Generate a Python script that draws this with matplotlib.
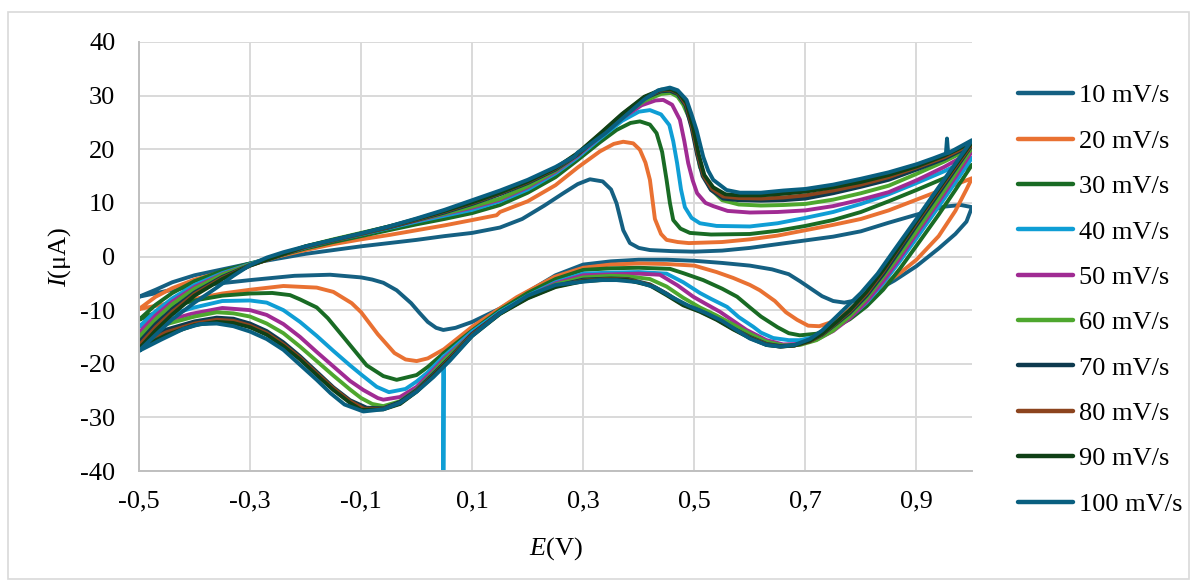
import matplotlib
matplotlib.use("Agg")
import matplotlib.pyplot as plt
from matplotlib.patches import Rectangle

plt.rcParams['font.family'] = 'Liberation Serif'
plt.rcParams['mathtext.fontset'] = 'custom'
plt.rcParams['mathtext.it'] = 'Liberation Serif:italic'
plt.rcParams['mathtext.rm'] = 'Liberation Serif'

labels = ["10 mV/s", "20 mV/s", "30 mV/s", "40 mV/s", "50 mV/s",
          "60 mV/s", "70 mV/s", "80 mV/s", "90 mV/s", "100 mV/s"]
colors = ["#156082", "#E97132", "#196B24", "#0F9ED5", "#A02B93",
          "#4EA72E", "#0D3A4E", "#8C441E", "#0F4016", "#095F80"]

# each scan: forward branch -0.5 -> 1.0, then reverse branch 1.0 -> -0.5
e10 = [-0.5, -0.47, -0.44, -0.4, -0.35, -0.3, -0.25, -0.2, -0.15, -0.1, -0.05, 0.0, 0.05, 0.1, 0.15, 0.19,
       0.23, 0.264, 0.29, 0.312, 0.335, 0.35, 0.36, 0.372, 0.384, 0.4, 0.42, 0.46, 0.5, 0.55, 0.6, 0.65,
       0.7, 0.75, 0.8, 0.85, 0.9, 0.95, 0.98, 1.0,
       0.99, 0.97, 0.94, 0.9, 0.86, 0.82, 0.79, 0.77, 0.75, 0.73, 0.71, 0.69, 0.67, 0.64, 0.6, 0.55, 0.5,
       0.45, 0.4, 0.35, 0.3, 0.25, 0.2, 0.15, 0.1, 0.07, 0.048, 0.035, 0.02, 0.005, -0.01, -0.036, -0.06,
       -0.08, -0.1, -0.156, -0.22, -0.3, -0.38, -0.44, -0.5]
i10 = [-7.5, -6.2, -4.8, -3.5, -2.4, -1.3, -0.4, 0.5, 1.2, 1.9, 2.5, 3.1, 3.8, 4.4, 5.4, 7.0,
       9.5, 11.8, 13.5, 14.4, 14.0, 12.5, 9.9, 4.9, 2.5, 1.6, 1.2, 1.0, 0.9, 1.1, 1.6, 2.3,
       3.0, 3.7, 4.7, 6.3, 7.8, 9.3, 9.6, 9.2,
       6.5, 4.2, 1.5, -1.8, -4.5, -6.8, -8.2, -8.6, -8.3, -7.4, -6.0, -4.6, -3.3, -2.4, -1.7, -1.2, -0.8,
       -0.6, -0.6, -0.9, -1.5, -3.5, -6.6, -9.7, -12.2, -13.3, -13.7, -13.3, -12.2, -10.5, -8.7, -6.3, -4.9,
       -4.3, -3.9, -3.4, -3.6, -4.4, -5.3, -6.2, -7.5]

e20 = [-0.5, -0.47, -0.44, -0.4, -0.35, -0.3, -0.25, -0.2, -0.15, -0.1, -0.05, 0.0, 0.05, 0.1, 0.144, 0.15,
       0.2, 0.25, 0.29, 0.33, 0.355, 0.372, 0.39, 0.402, 0.412, 0.42, 0.429, 0.44, 0.45, 0.47, 0.49, 0.55,
       0.6, 0.65, 0.7, 0.75, 0.8, 0.85, 0.9, 0.95, 1.0,
       0.99, 0.97, 0.94, 0.9, 0.87, 0.84, 0.8, 0.77, 0.745, 0.725, 0.705, 0.685, 0.665, 0.645, 0.618, 0.6,
       0.57, 0.54, 0.5, 0.45, 0.4, 0.35, 0.3, 0.248, 0.18, 0.1, 0.049, 0.02, 0.0, -0.02, -0.04, -0.07, -0.1,
       -0.117, -0.15, -0.18, -0.24, -0.3, -0.35, -0.4, -0.45, -0.5]
i20 = [-9.8, -7.5, -5.9, -4.3, -2.9, -1.6, 0.0, 1.2, 2.3, 3.2, 4.0, 4.9, 5.8, 6.8, 7.7, 8.3,
       10.3, 13.3, 16.6, 19.6, 21.0, 21.4, 21.1, 19.9, 17.5, 14.3, 7.0, 4.2, 3.1, 2.7, 2.5, 2.7,
       3.2, 3.9, 4.9, 5.9, 7.0, 8.6, 10.6, 12.6, 14.6,
       12.5, 8.5, 3.8, -0.6, -3.1, -5.3, -8.3, -10.6, -12.3, -13.0, -12.9, -11.8, -10.4, -8.3, -6.3, -5.3,
       -4.0, -2.9, -1.7, -1.4, -1.3, -1.5, -2.1, -3.8, -7.6, -13.1, -17.3, -19.0, -19.5, -19.2, -18.0, -14.5, -10.4,
       -8.7, -6.6, -5.8, -5.5, -6.2, -6.9, -7.9, -8.8, -9.8]

e30 = [-0.5, -0.47, -0.44, -0.4, -0.35, -0.3, -0.25, -0.2, -0.15, -0.1, -0.05, 0.0, 0.05, 0.1, 0.15, 0.2,
       0.25, 0.29, 0.33, 0.36, 0.385, 0.402, 0.42, 0.432, 0.442, 0.45, 0.456, 0.462, 0.475, 0.492, 0.53,
       0.6, 0.65, 0.7, 0.75, 0.8, 0.85, 0.9, 0.95, 1.0,
       0.97, 0.94, 0.9, 0.87, 0.84, 0.81, 0.78, 0.75, 0.72, 0.69, 0.67, 0.65, 0.62, 0.6, 0.577, 0.55, 0.516,
       0.48, 0.456, 0.4, 0.35, 0.3, 0.25, 0.2, 0.15, 0.1, 0.049, 0.02, 0.0, -0.036, -0.06, -0.09, -0.132,
       -0.16, -0.18, -0.21, -0.228, -0.26, -0.3, -0.35, -0.4, -0.45, -0.5]
i30 = [-11.8, -9.0, -6.8, -4.6, -2.7, -1.3, 0.1, 1.5, 2.7, 3.8, 4.9, 6.0, 7.0, 8.1, 9.6, 11.9,
       14.8, 18.0, 21.3, 23.6, 24.9, 25.2, 24.6, 23.0, 19.5, 14.3, 10.0, 6.8, 5.2, 4.4, 4.1,
       4.2, 4.8, 5.7, 6.8, 8.3, 10.3, 12.4, 14.6, 17.1,
       12.4, 7.8, 2.0, -2.3, -6.2, -9.3, -11.7, -13.4, -14.4, -14.7, -14.3, -13.2, -11.2, -9.5, -7.5, -6.0, -4.4,
       -3.1, -2.3, -2.1, -2.2, -2.5, -4.2, -6.8, -10.0, -13.8, -18.0, -20.6, -22.1, -23.0, -22.3, -20.3, -15.0,
       -11.5, -9.5, -8.0, -7.2, -6.8, -6.9, -7.3, -8.2, -9.6, -11.8]

e40 = [-0.5, -0.47, -0.44, -0.4, -0.35, -0.3, -0.25, -0.2, -0.15, -0.1, -0.05, 0.0, 0.05, 0.1, 0.15, 0.2,
       0.25, 0.29, 0.33, 0.37, 0.4, 0.42, 0.44, 0.455, 0.462, 0.469, 0.476, 0.483, 0.495, 0.51, 0.54,
       0.6, 0.65, 0.7, 0.75, 0.8, 0.85, 0.9, 0.95, 1.0,
       0.97, 0.94, 0.9, 0.87, 0.84, 0.81, 0.78, 0.75, 0.72, 0.69, 0.67, 0.642, 0.62, 0.606, 0.58, 0.559,
       0.53, 0.51, 0.48, 0.45, 0.4, 0.35, 0.3, 0.25, 0.2, 0.15, 0.1, 0.048, 0.048, 0.049, 0.02, 0.0,
       -0.02, -0.05, -0.072, -0.1, -0.12, -0.15, -0.18, -0.21, -0.24, -0.27, -0.3, -0.35, -0.4, -0.45, -0.5]
i40 = [-13.1, -10.2, -7.8, -5.3, -3.1, -1.4, 0.2, 1.7, 3.0, 4.1, 5.3, 6.5, 7.6, 8.7, 10.3, 12.5,
       15.5, 18.5, 22.0, 25.3, 27.0, 27.3, 26.5, 24.5, 21.5, 17.4, 12.5, 9.2, 7.2, 6.2, 5.7,
       5.6, 6.2, 7.2, 8.3, 9.8, 11.6, 13.7, 15.9, 18.4,
       13.8, 9.3, 3.4, -0.9, -5.0, -8.6, -11.4, -13.5, -14.9, -15.6, -15.6, -15.2, -14.2, -13.1, -11.3, -9.4,
       -7.9, -6.8, -4.8, -3.2, -2.9, -3.0, -3.2, -4.8, -7.3, -10.3, -14.0, -18.7, -45.0, -18.6, -21.6, -23.3,
       -24.7, -25.3, -24.3, -22.0, -20.3, -17.6, -14.8, -12.2, -10.0, -8.6, -8.2, -8.3, -9.5, -11.0, -13.1]

e50 = [-0.5, -0.47, -0.44, -0.4, -0.35, -0.3, -0.25, -0.2, -0.15, -0.1, -0.05, 0.0, 0.05, 0.1, 0.15, 0.2,
       0.25, 0.29, 0.33, 0.37, 0.405, 0.43, 0.444, 0.46, 0.474, 0.482, 0.489, 0.497, 0.505, 0.52, 0.534,
       0.56, 0.6, 0.65, 0.7, 0.75, 0.8, 0.85, 0.9, 0.95, 1.0,
       0.97, 0.94, 0.9, 0.87, 0.84, 0.81, 0.78, 0.75, 0.72, 0.69, 0.66, 0.63, 0.594, 0.57, 0.546, 0.52,
       0.498, 0.47, 0.438, 0.4, 0.36, 0.3, 0.25, 0.2, 0.15, 0.1, 0.05, 0.03, 0.0, -0.03, -0.06, -0.07,
       -0.096, -0.12, -0.15, -0.18, -0.21, -0.24, -0.27, -0.3, -0.35, -0.406, -0.45, -0.5]
i50 = [-14.2, -11.0, -8.4, -5.7, -3.3, -1.5, 0.2, 1.8, 3.1, 4.3, 5.5, 6.7, 7.9, 9.1, 10.6, 12.9,
       15.8, 18.8, 22.3, 25.8, 28.2, 29.1, 29.2, 28.3, 25.5, 21.5, 17.4, 14.2, 11.8, 10.0, 9.4,
       8.5, 8.2, 8.3, 8.6, 9.4, 10.6, 12.0, 14.2, 16.7, 19.6,
       14.8, 10.2, 4.2, -0.3, -4.6, -8.4, -11.5, -13.9, -15.5, -16.3, -16.4, -15.6, -13.7, -12.0, -10.3, -8.8,
       -7.5, -5.4, -3.4, -3.2, -3.3, -3.5, -5.0, -7.5, -10.6, -14.4, -19.0, -21.2, -24.3, -26.2, -26.7, -26.4,
       -24.9, -23.2, -20.5, -17.8, -15.0, -12.6, -10.9, -10.0, -9.6, -10.7, -12.0, -14.2]

e60 = [-0.5, -0.47, -0.44, -0.4, -0.35, -0.3, -0.25, -0.2, -0.15, -0.1, -0.05, 0.0, 0.05, 0.1, 0.15, 0.2,
       0.25, 0.29, 0.33, 0.37, 0.41, 0.44, 0.458, 0.47, 0.48, 0.49, 0.498, 0.51, 0.528, 0.55, 0.58,
       0.62, 0.66, 0.7, 0.75, 0.8, 0.85, 0.9, 0.95, 1.0,
       0.97, 0.94, 0.9, 0.87, 0.84, 0.81, 0.78, 0.75, 0.72, 0.69, 0.66, 0.63, 0.6, 0.57, 0.54, 0.51,
       0.48, 0.45, 0.42, 0.38, 0.35, 0.3, 0.25, 0.2, 0.15, 0.1, 0.05, 0.03, 0.0, -0.03, -0.06, -0.08,
       -0.1, -0.12, -0.15, -0.18, -0.21, -0.24, -0.27, -0.3, -0.33, -0.36, -0.4, -0.45, -0.5]
i60 = [-15.0, -11.7, -8.9, -6.0, -3.4, -1.5, 0.2, 1.9, 3.2, 4.4, 5.6, 6.8, 8.0, 9.3, 10.8, 13.1,
       16.0, 19.0, 22.5, 26.2, 29.0, 30.3, 30.5, 29.8, 28.3, 26.0, 23.6, 16.7, 12.8, 10.5, 9.7,
       9.5, 9.6, 9.8, 10.6, 11.8, 13.2, 15.4, 17.7, 20.3,
       15.5, 10.8, 4.8, 0.4, -3.8, -7.8, -11.1, -13.8, -15.6, -16.5, -16.6, -15.9, -14.4, -12.7, -11.0, -9.5,
       -7.7, -5.6, -4.2, -3.7, -3.6, -3.9, -5.2, -7.6, -10.7, -14.5, -19.3, -21.6, -24.8, -27.0, -27.9, -27.5,
       -26.4, -24.8, -22.2, -19.5, -16.8, -14.3, -12.5, -11.2, -10.6, -10.4, -11.2, -12.6, -15.0]

e70 = [-0.5, -0.47, -0.44, -0.4, -0.35, -0.3, -0.25, -0.2, -0.15, -0.1, -0.05, 0.0, 0.05, 0.1, 0.15, 0.2,
       0.25, 0.29, 0.33, 0.37, 0.41, 0.44, 0.456, 0.47, 0.484, 0.495, 0.505, 0.515, 0.53, 0.552, 0.58,
       0.62, 0.66, 0.7, 0.75, 0.8, 0.85, 0.9, 0.95, 1.0,
       0.97, 0.94, 0.9, 0.87, 0.84, 0.81, 0.78, 0.756, 0.73, 0.708, 0.68, 0.655, 0.63, 0.6, 0.57, 0.54,
       0.51, 0.48, 0.45, 0.42, 0.38, 0.35, 0.3, 0.25, 0.2, 0.15, 0.1, 0.06, 0.03, 0.0, -0.03, -0.06, -0.09,
       -0.12, -0.15, -0.18, -0.21, -0.24, -0.27, -0.3, -0.33, -0.36, -0.4, -0.45, -0.5]
i70 = [-16.0, -12.6, -9.8, -6.7, -3.8, -1.6, 0.1, 1.8, 3.0, 4.2, 5.4, 6.8, 8.2, 9.8, 11.6, 13.7,
       16.2, 19.0, 22.6, 26.4, 29.5, 30.8, 30.9, 30.3, 28.2, 24.0, 19.0, 15.0, 12.4, 10.8, 10.5,
       10.4, 10.5, 10.8, 11.8, 13.0, 14.3, 16.2, 18.2, 20.8,
       16.3, 11.8, 5.8, 1.2, -3.3, -7.3, -10.5, -12.5, -14.6, -15.8, -16.6, -16.7, -16.3, -15.0, -13.4, -11.6,
       -10.1, -8.9, -6.9, -5.2, -4.2, -4.1, -4.3, -5.5, -7.6, -10.5, -14.4, -18.8, -21.9, -24.9, -27.1, -28.3, -28.2,
       -26.8, -24.4, -21.5, -18.6, -16.0, -13.9, -12.5, -11.6, -11.4, -12.1, -13.6, -16.0]

e80 = [-0.5, -0.47, -0.44, -0.4, -0.35, -0.3, -0.25, -0.2, -0.15, -0.1, -0.05, 0.0, 0.05, 0.1, 0.15, 0.2,
       0.25, 0.29, 0.33, 0.37, 0.41, 0.44, 0.458, 0.472, 0.486, 0.497, 0.507, 0.517, 0.532, 0.552, 0.58,
       0.62, 0.66, 0.7, 0.75, 0.8, 0.85, 0.9, 0.95, 1.0,
       0.97, 0.94, 0.9, 0.87, 0.84, 0.81, 0.78, 0.756, 0.73, 0.708, 0.68, 0.655, 0.63, 0.6, 0.57, 0.54,
       0.51, 0.48, 0.45, 0.42, 0.38, 0.35, 0.3, 0.25, 0.2, 0.15, 0.1, 0.06, 0.03, 0.0, -0.03, -0.06, -0.095,
       -0.12, -0.15, -0.18, -0.21, -0.24, -0.27, -0.3, -0.33, -0.36, -0.4, -0.45, -0.5]
i80 = [-16.6, -13.2, -10.3, -7.0, -4.0, -1.7, 0.1, 1.8, 3.0, 4.2, 5.5, 6.9, 8.4, 10.0, 11.8, 13.9,
       16.4, 19.2, 22.8, 26.5, 29.7, 31.0, 31.1, 30.4, 28.2, 23.8, 18.8, 15.0, 12.6, 11.2, 10.9,
       10.8, 11.0, 11.4, 12.3, 13.4, 14.8, 16.6, 18.5, 21.0,
       16.7, 12.3, 6.3, 1.8, -2.8, -6.9, -10.2, -12.3, -14.5, -15.8, -16.6, -16.8, -16.4, -15.1, -13.5, -11.7,
       -10.2, -9.0, -7.0, -5.3, -4.3, -4.2, -4.5, -5.6, -7.7, -10.6, -14.6, -19.0, -22.2, -25.1, -27.4, -28.4, -28.4,
       -27.0, -24.6, -21.8, -18.9, -16.4, -14.3, -12.9, -12.0, -11.8, -12.5, -14.1, -16.6]

e90 = [-0.5, -0.47, -0.44, -0.4, -0.35, -0.3, -0.25, -0.2, -0.15, -0.1, -0.05, 0.0, 0.05, 0.1, 0.15, 0.2,
       0.25, 0.29, 0.33, 0.37, 0.41, 0.44, 0.458, 0.472, 0.486, 0.498, 0.508, 0.518, 0.534, 0.556, 0.58,
       0.62, 0.66, 0.7, 0.75, 0.8, 0.85, 0.9, 0.95, 1.0,
       0.97, 0.94, 0.9, 0.87, 0.84, 0.81, 0.78, 0.756, 0.73, 0.708, 0.68, 0.655, 0.63, 0.6, 0.57, 0.54,
       0.51, 0.48, 0.45, 0.42, 0.38, 0.35, 0.3, 0.25, 0.2, 0.15, 0.1, 0.06, 0.03, 0.0, -0.03, -0.06, -0.1,
       -0.12, -0.15, -0.18, -0.21, -0.24, -0.27, -0.3, -0.33, -0.36, -0.4, -0.45, -0.5]
i90 = [-17.2, -13.8, -10.8, -7.3, -4.2, -1.7, 0.1, 1.9, 3.1, 4.3, 5.6, 7.0, 8.5, 10.1, 11.9, 14.0,
       16.5, 19.3, 22.9, 26.6, 29.8, 31.1, 31.2, 30.5, 28.6, 24.0, 19.0, 15.2, 12.9, 11.6, 11.4,
       11.4, 11.7, 12.1, 12.9, 13.9, 15.2, 16.8, 18.8, 21.3,
       17.0, 12.6, 6.6, 2.0, -2.5, -6.6, -10.0, -12.2, -14.4, -15.7, -16.6, -16.8, -16.5, -15.2, -13.6, -11.8,
       -10.3, -9.1, -7.2, -5.4, -4.4, -4.3, -4.6, -5.7, -7.8, -10.7, -14.8, -19.2, -22.3, -25.2, -27.5, -28.5, -28.6,
       -27.3, -24.9, -22.1, -19.2, -16.7, -14.6, -13.2, -12.4, -12.2, -12.8, -14.6, -17.2]

e100 = [-0.5, -0.47, -0.44, -0.4, -0.36, -0.33, -0.3, -0.27, -0.24, -0.2, -0.15, -0.1, -0.05, 0.0, 0.05,
        0.1, 0.15, 0.2, 0.25, 0.285, 0.29, 0.3, 0.34, 0.38, 0.41, 0.435, 0.456, 0.47, 0.486, 0.495, 0.504,
        0.516, 0.525, 0.534, 0.558, 0.582, 0.62, 0.66, 0.7, 0.75, 0.8, 0.85, 0.9, 0.93, 0.953, 0.955, 0.957,
        0.97, 1.0,
        0.95, 0.9, 0.86, 0.83, 0.8, 0.78, 0.756, 0.73, 0.708, 0.68, 0.655, 0.63, 0.6, 0.58, 0.55, 0.52, 0.49,
        0.46, 0.43, 0.4, 0.36, 0.33, 0.3, 0.25, 0.2, 0.15, 0.1, 0.06, 0.03, 0.0, -0.03, -0.06, -0.096, -0.13,
        -0.155, -0.18, -0.21, -0.24, -0.27, -0.3, -0.33, -0.36, -0.39, -0.42, -0.46, -0.5]
i100 = [-17.6, -14.6, -11.7, -8.6, -5.8, -3.6, -1.6, -0.2, 0.8, 1.9, 3.1, 4.3, 5.6, 7.1, 8.7,
        10.5, 12.3, 14.3, 16.7, 18.7, 19.4, 20.0, 23.0, 26.6, 29.3, 31.0, 31.5, 31.0, 29.2, 26.5, 23.6,
        18.6, 16.0, 14.3, 12.4, 11.9, 11.9, 12.3, 12.6, 13.4, 14.5, 15.7, 17.2, 18.3, 19.2, 22.0, 19.3,
        20.0, 21.7,
        14.4, 7.0, 1.2, -3.2, -6.8, -8.8, -11.2, -13.8, -15.4, -16.5, -16.8, -16.5, -15.3, -14.0, -12.0, -10.5, -9.2,
        -7.6, -5.8, -4.8, -4.4, -4.4, -4.7, -5.3, -7.3, -10.6, -14.8, -19.4, -22.5, -25.2, -27.3, -28.5, -28.9, -27.6,
        -25.5, -23.0, -20.2, -17.4, -15.4, -14.0, -13.0, -12.5, -12.6, -13.5, -15.5, -17.6]

E_all = [e10, e20, e30, e40, e50, e60, e70, e80, e90, e100]
I_all = [i10, i20, i30, i40, i50, i60, i70, i80, i90, i100]

x_ticks = [-0.5, -0.3, -0.1, 0.1, 0.3, 0.5, 0.7, 0.9]
x_ticklabels = ["-0,5", "-0,3", "-0,1", "0,1", "0,3", "0,5", "0,7", "0,9"]
y_ticks = [-40, -30, -20, -10, 0, 10, 20, 30, 40]

W, H = 1197, 583
fig = plt.figure(figsize=(W / 100, H / 100), dpi=100)
ax = fig.add_axes([139 / W, 1 - 471 / H, (972 - 139) / W, (471 - 42) / H])

for e, i, c, lab in zip(E_all, I_all, colors, labels):
    ax.plot(e, i, color=c, lw=2.8, label=lab, solid_joinstyle='round', solid_capstyle='round')

ax.set_xlim(-0.5, 1.0)
ax.set_ylim(-40, 40)
ax.set_xticks(x_ticks)
ax.set_xticklabels(x_ticklabels)
ax.set_yticks(y_ticks)
ax.set_yticklabels([str(v) for v in y_ticks])
ax.grid(True, color='#D9D9D9', lw=1.4)
ax.set_axisbelow(True)
ax.tick_params(axis='both', length=0, labelsize=19, colors='#000000')
ax.tick_params(axis='y', pad=17)
ax.tick_params(axis='x', pad=14)
for s in ['top', 'right']:
    ax.spines[s].set_visible(False)
for s in ['left', 'bottom']:
    ax.spines[s].set_color('#BFBFBF')
    ax.spines[s].set_linewidth(1.4)

ax.set_xlabel('$E$(V)', fontsize=19, labelpad=16)
ax.set_ylabel('$I$(μA)', fontsize=19, labelpad=5)

leg = fig.legend(loc='upper left', bbox_to_anchor=(1018 / W, 1 - 84 / H), frameon=False,
                 fontsize=19, handlelength=2.08, handletextpad=0.23, labelspacing=0.83,
                 borderpad=0, borderaxespad=0)
for h in leg.get_lines():
    h.set_linewidth(3.2)

fig.patches.append(Rectangle((8 / W, 1 - 579 / H), (1189 - 8) / W, (579 - 12) / H,
                             transform=fig.transFigure, fill=False, edgecolor='#D9D9D9', lw=1.2))

fig.savefig('out.png', dpi=100)
